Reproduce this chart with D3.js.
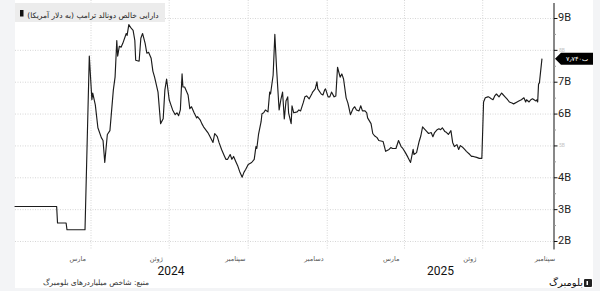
<!DOCTYPE html>
<html>
<head>
<meta charset="utf-8">
<script src="https://cdn.jsdelivr.net/npm/d3@7"></script>
<style>
body { margin: 0; background: #f3f4f6; }
svg { display: block; }
</style>
</head>
<body>
<script>
//Width and height
var w = 600;
var h = 291;

//Net worth series (billions of USD)
var dates = [
  "2024-01-03","2024-02-21","2024-02-22","2024-03-03","2024-03-04","2024-03-25","2024-03-30","2024-04-02","2024-04-03","2024-04-06",
  "2024-04-09","2024-04-13","2024-04-15","2024-04-17","2024-04-20","2024-04-23","2024-04-27","2024-04-29","2024-05-01","2024-05-02",
  "2024-05-04","2024-05-06","2024-05-08","2024-05-12","2024-05-13","2024-05-15","2024-05-17","2024-05-20","2024-05-22","2024-05-23",
  "2024-05-27","2024-05-29","2024-05-31","2024-06-03","2024-06-05","2024-06-07","2024-06-10","2024-06-12","2024-06-14","2024-06-18",
  "2024-06-21","2024-06-24","2024-06-26","2024-06-28","2024-07-01","2024-07-03","2024-07-05","2024-07-08","2024-07-10","2024-07-12",
  "2024-07-14","2024-07-16","2024-07-17","2024-07-19","2024-07-23","2024-07-25","2024-07-27","2024-07-30","2024-08-02","2024-08-03",
  "2024-08-06","2024-08-08","2024-08-10","2024-08-15","2024-08-17","2024-08-21","2024-08-23","2024-08-26","2024-08-28","2024-08-31",
  "2024-09-03","2024-09-05","2024-09-07","2024-09-10","2024-09-12","2024-09-14","2024-09-17","2024-09-19","2024-09-21","2024-09-24",
  "2024-09-26","2024-09-28","2024-10-01","2024-10-03","2024-10-05","2024-10-08","2024-10-10","2024-10-11","2024-10-13","2024-10-16",
  "2024-10-17","2024-10-19","2024-10-21","2024-10-24","2024-10-26","2024-10-27","2024-10-30","2024-11-01","2024-11-03","2024-11-06",
  "2024-11-08","2024-11-10","2024-11-12","2024-11-14","2024-11-16","2024-11-17","2024-11-20","2024-11-21","2024-11-23","2024-11-27",
  "2024-11-29","2024-12-01","2024-12-04","2024-12-06","2024-12-08","2024-12-11","2024-12-14","2024-12-15","2024-12-18","2024-12-20",
  "2024-12-21","2024-12-25","2024-12-27","2024-12-29","2024-12-30","2025-01-02","2025-01-04","2025-01-06","2025-01-09","2025-01-11",
  "2025-01-13","2025-01-16","2025-01-18","2025-01-20","2025-01-23","2025-01-25","2025-01-26","2025-01-28","2025-01-31","2025-02-02",
  "2025-02-04","2025-02-07","2025-02-09","2025-02-11","2025-02-14","2025-02-16","2025-02-17","2025-02-21","2025-02-23","2025-02-25",
  "2025-02-28","2025-03-02","2025-03-07","2025-03-10","2025-03-14","2025-03-16","2025-03-18","2025-03-22","2025-03-25","2025-03-28",
  "2025-03-30","2025-04-02","2025-04-05","2025-04-08","2025-04-11","2025-04-12","2025-04-15","2025-04-18","2025-04-20","2025-04-22",
  "2025-04-23","2025-04-27","2025-04-29","2025-05-02","2025-05-04","2025-05-06","2025-05-09","2025-05-11","2025-05-13","2025-05-15",
  "2025-05-18","2025-05-20","2025-05-22","2025-05-25","2025-05-27","2025-05-29","2025-06-01","2025-06-03","2025-06-05","2025-06-08",
  "2025-06-10","2025-06-12","2025-06-16","2025-06-18","2025-06-20","2025-06-24","2025-06-27","2025-06-30","2025-07-02","2025-07-04",
  "2025-07-07","2025-07-08","2025-07-11","2025-07-13","2025-07-15","2025-07-17","2025-07-20","2025-07-23","2025-07-24","2025-07-27",
  "2025-07-30","2025-08-01","2025-08-04","2025-08-06","2025-08-10","2025-08-12","2025-08-15","2025-08-18","2025-08-20","2025-08-21",
  "2025-08-24","2025-08-26","2025-08-28","2025-09-01","2025-09-02","2025-09-03","2025-09-04","2025-09-05","2025-09-08"
];
var values = [
  3.10,3.10,2.58,2.58,2.37,2.37,7.82,6.45,6.66,6.29,
  5.57,5.26,5.17,4.48,5.36,5.48,6.76,7.16,8.31,7.82,
  8.13,8.10,8.22,8.53,8.47,8.81,8.72,8.63,8.31,7.69,
  7.66,8.38,8.53,8.22,7.91,7.94,7.75,7.35,7.16,6.69,
  5.70,5.85,6.76,7.10,6.45,6.29,6.13,5.98,6.04,5.95,
  6.13,7.26,6.85,6.85,6.60,6.17,6.23,6.04,5.88,5.92,
  5.82,5.70,5.60,5.42,5.32,5.11,5.39,5.29,5.11,4.89,
  4.70,4.58,4.58,4.73,4.58,4.67,4.48,4.36,4.20,4.02,
  4.17,4.26,4.42,4.45,4.48,4.58,4.98,4.92,5.36,5.76,
  6.01,6.04,6.13,6.07,6.69,6.63,7.22,8.50,7.44,6.13,
  6.45,6.69,5.85,6.41,6.54,6.04,5.70,6.26,6.04,6.07,
  6.13,6.10,6.35,6.54,6.57,6.48,6.63,6.69,6.79,7.01,
  6.79,6.63,6.60,6.76,6.79,6.54,6.54,6.69,6.54,6.57,
  7.47,7.16,7.26,7.10,6.51,6.35,6.23,5.98,6.17,6.23,
  6.13,6.10,6.26,6.10,6.10,6.04,5.88,5.70,5.39,5.32,
  5.26,5.17,5.14,4.83,4.89,4.95,4.92,4.92,5.17,4.98,
  4.92,4.79,4.64,4.48,4.89,4.73,4.79,5.14,5.32,5.60,
  5.57,5.45,5.39,5.42,5.29,5.42,5.51,5.54,5.51,5.57,
  5.45,5.42,5.36,5.48,5.11,4.98,5.04,4.89,5.01,4.95,
  4.89,4.83,4.73,4.67,4.67,4.64,4.61,4.61,6.38,6.51,
  6.54,6.54,6.48,6.45,6.57,6.63,6.54,6.66,6.63,6.54,
  6.45,6.38,6.35,6.32,6.38,6.41,6.45,6.51,6.38,6.45,
  6.38,6.45,6.48,6.41,6.45,6.38,6.94,6.98,7.74
];

//Axis labels
var yTicks = [2, 3, 4, 5, 6, 7, 8, 9];
var yFaded = [5, 8];
var quarterLines = ["2024-04-01","2024-07-01","2024-10-01","2025-01-01","2025-04-01","2025-07-01"];
var monthStarts = ["2024-03-01","2024-06-01","2024-09-01","2024-12-01","2025-03-01","2025-06-01","2025-09-01"];
var monthNames = ["مارس","ژوئن","سپتامبر","دسامبر","مارس","ژوئن","سپتامبر"];
var years = [2024, 2025];

var titleText = "دارایی خالص دونالد ترامپ (به دلار آمریکا)";
var sourceText = "منبع: شاخص میلیاردرهای بلومبرگ";
var lastLabel = "۷٫۷۴۰ب";

var faFont = "'DejaVu Sans', 'Noto Sans', sans-serif";
var numFont = "Roboto, 'Open Sans', sans-serif";

var parse = d3.utcParse("%Y-%m-%d");
var data = dates.map(function(d, i) { return { date: parse(d), value: values[i] }; });

var x0 = new Date(Date.UTC(2024, 0, 3, 12));
var x1 = new Date(Date.UTC(2025, 8, 22));

var x = d3.scaleUtc().domain([x0, x1]).range([15, 554]);
var y = d3.scaleLinear().domain([2, 9]).range([241.5, 18.5]);

//Create SVG element
var svg = d3.select("body")
  .append("svg")
  .attr("width", w)
  .attr("height", h);

svg.append("rect").attr("width", w).attr("height", h).attr("fill", "#f3f4f6");
svg.append("rect").attr("x", 15).attr("y", 0).attr("width", 578).attr("height", 288).attr("fill", "#fff");

//horizontal gridlines
svg.selectAll(".hgrid")
  .data(yTicks)
  .enter()
  .append("line")
  .attr("x1", 15).attr("x2", 554)
  .attr("y1", function(d) { return y(d); })
  .attr("y2", function(d) { return y(d); })
  .attr("stroke", "#d6d6d6")
  .attr("stroke-dasharray", "1,1.5");

//vertical gridlines at quarter starts
svg.selectAll(".vgrid")
  .data(quarterLines)
  .enter()
  .append("line")
  .attr("x1", function(d) { return x(parse(d)); })
  .attr("x2", function(d) { return x(parse(d)); })
  .attr("y1", 0).attr("y2", y(1.75))
  .attr("stroke", "#d6d6d6")
  .attr("stroke-dasharray", "1,1.5");

//the line
var line = d3.line()
  .x(function(d) { return x(d.date); })
  .y(function(d) { return y(d.value); });

svg.append("path")
  .datum(data)
  .attr("d", line)
  .attr("fill", "none")
  .attr("stroke", "#1c1c1c")
  .attr("stroke-width", 1.15)
  .attr("stroke-linejoin", "round");

//title box, sits over the plot
svg.append("rect").attr("x", 15).attr("y", 3).attr("width", 150).attr("height", 19).attr("fill", "#ececec");
svg.append("rect").attr("x", 20).attr("y", 10).attr("width", 3.5).attr("height", 6.5).attr("fill", "#111");
svg.append("text")
  .attr("x", 93).attr("y", 15.5)
  .attr("text-anchor", "middle")
  .attr("dominant-baseline", "middle")
  .style("font-family", faFont)
  .style("font-size", "7.5px")
  .attr("fill", "#222")
  .text(titleText);

//right axis
svg.append("line")
  .attr("x1", 554).attr("x2", 554)
  .attr("y1", 3).attr("y2", y(1.75))
  .attr("stroke", "#111");

var minor = d3.range(2, 9.5, 0.5);
svg.selectAll(".tick")
  .data(minor)
  .enter()
  .append("line")
  .attr("x1", 554)
  .attr("x2", function(d) { return d % 1 === 0 ? 557.5 : 556; })
  .attr("y1", function(d) { return y(d); })
  .attr("y2", function(d) { return y(d); })
  .attr("stroke", function(d) { return d % 1 === 0 ? "#111" : "#999"; });

svg.selectAll(".ylab")
  .data(yTicks)
  .enter()
  .append("text")
  .attr("x", function(d) { return yFaded.indexOf(d) >= 0 ? 559 : 558; })
  .attr("y", function(d) { return y(d); })
  .attr("dominant-baseline", "middle")
  .style("font-family", numFont)
  .style("font-size", function(d) { return yFaded.indexOf(d) >= 0 ? "5px" : "11px"; })
  .attr("fill", function(d) { return yFaded.indexOf(d) >= 0 ? "#c4c4c4" : "#222"; })
  .text(function(d) { return d + "B"; });

//last value callout
var last = data[data.length - 1];
var cy = y(last.value);
svg.append("path")
  .attr("d", "M555," + cy + " L561," + (cy - 6) + " L593," + (cy - 6) + " L593," + (cy + 6) + " L561," + (cy + 6) + " Z")
  .attr("fill", "#000");
svg.append("text")
  .attr("x", 577).attr("y", cy + 0.5)
  .attr("text-anchor", "middle")
  .attr("dominant-baseline", "middle")
  .style("font-family", faFont)
  .style("font-size", "6.5px")
  .attr("fill", "#fff")
  .text(lastLabel);

//month labels, centred on the visible part of each month
svg.selectAll(".mlab")
  .data(monthStarts)
  .enter()
  .append("text")
  .attr("x", function(d) {
    var s = parse(d);
    var e = d3.utcMonth.offset(s, 1);
    var a = Math.max(x(s), 15), b = Math.min(x(e), 554);
    return (a + b) / 2;
  })
  .attr("y", 259)
  .attr("text-anchor", "middle")
  .attr("dominant-baseline", "middle")
  .style("font-family", faFont)
  .style("font-size", "6.5px")
  .attr("fill", "#555")
  .text(function(d, i) { return monthNames[i]; });

//year labels
svg.selectAll(".yrlab")
  .data(years)
  .enter()
  .append("text")
  .attr("x", function(d) {
    var a = Math.max(x(new Date(Date.UTC(d, 0, 1))), 15);
    var b = Math.min(x(new Date(Date.UTC(d + 1, 0, 1))), 554);
    return (a + b) / 2;
  })
  .attr("y", 272)
  .attr("text-anchor", "middle")
  .attr("dominant-baseline", "middle")
  .style("font-family", numFont)
  .style("font-size", "12px")
  .attr("fill", "#111")
  .text(function(d) { return d; });

//source
svg.append("text")
  .attr("x", 96).attr("y", 283)
  .attr("text-anchor", "middle")
  .attr("dominant-baseline", "middle")
  .style("font-family", faFont)
  .style("font-size", "7.5px")
  .attr("fill", "#333")
  .text(sourceText);

//bloomberg mark
svg.append("rect").attr("x", 584).attr("y", 279).attr("width", 8).attr("height", 8).attr("rx", 1).attr("fill", "#222");
svg.append("rect").attr("x", 586.5).attr("y", 281).attr("width", 1.5).attr("height", 4).attr("fill", "#fff");
svg.append("text")
  .attr("x", 566).attr("y", 283)
  .attr("text-anchor", "middle")
  .attr("dominant-baseline", "middle")
  .style("font-family", faFont)
  .style("font-size", "10px")
  .attr("fill", "#111")
  .text("بلومبرگ");
</script>
</body>
</html>
